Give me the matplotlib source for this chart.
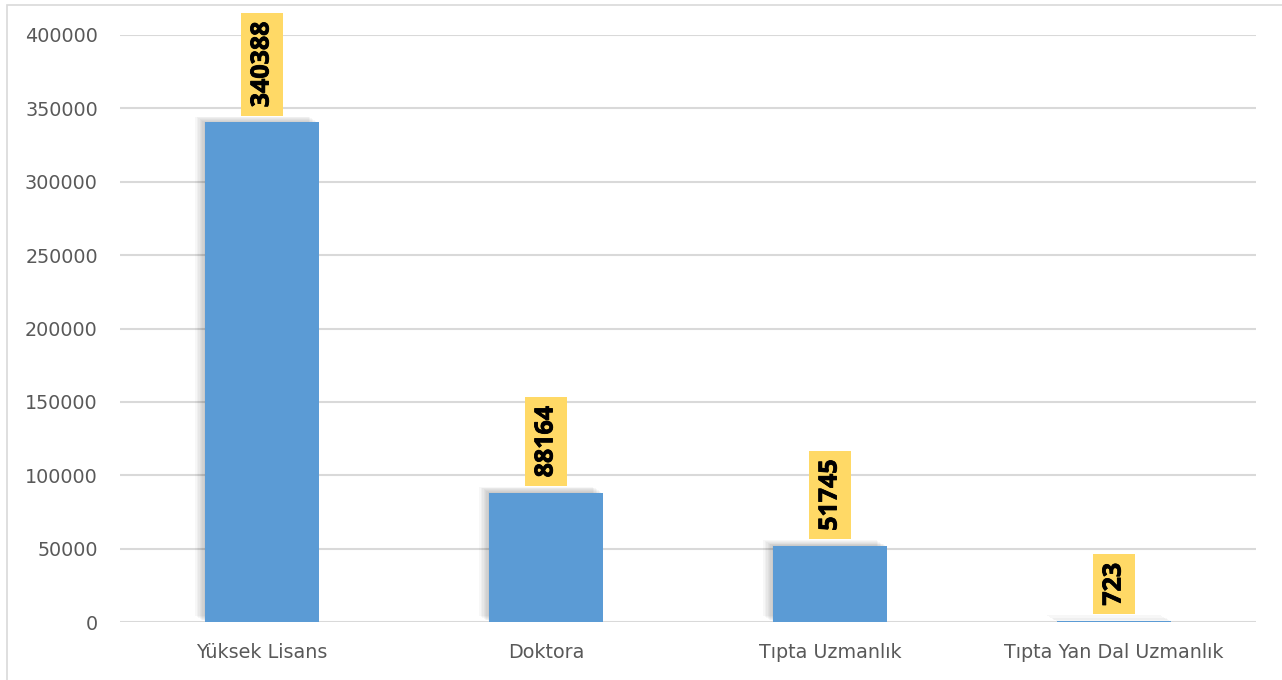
import matplotlib
matplotlib.use("Agg")
import matplotlib.pyplot as plt
import matplotlib.patheffects as pe
from matplotlib.patches import Rectangle

categories = ["Yüksek Lisans", "Doktora", "Tıpta Uzmanlık", "Tıpta Yan Dal Uzmanlık"]
values = [340388, 88164, 51745, 723]
yticks = [0, 50000, 100000, 150000, 200000, 250000, 300000, 350000, 400000]

W, H = 1282, 680
fig = plt.figure(figsize=(W / 100, H / 100), dpi=100)
fig.patch.set_facecolor("white")
ax = fig.add_axes([120 / W, 1 - 622 / H, (1256 - 120) / W, (622 - 35) / H])

x = list(range(len(categories)))

shadow = [pe.SimplePatchShadow(offset=(-d, d * 0.6), shadow_rgbFace="#000000", alpha=0.03)
          for d in (7, 6, 5, 4, 3, 2, 1)]
bars = ax.bar(x, values, width=0.4, color="#5B9BD5", zorder=3,
              path_effects=shadow + [pe.Normal()])

ax.set_xlim(-0.5, len(categories) - 0.5)
ax.set_ylim(0, 400000)
ax.set_yticks(yticks)
ax.set_yticklabels([str(v) for v in yticks])
ax.set_xticks(x)
ax.set_xticklabels(categories)

ax.grid(axis="y", color="#D9D9D9", linewidth=1.5, zorder=0)
ax.set_axisbelow(True)
for s in ax.spines.values():
    s.set_visible(False)
ax.tick_params(axis="both", length=0, colors="#595959", labelsize=13.8)
ax.tick_params(axis="y", pad=16)
ax.tick_params(axis="x", pad=15)
for lab in ax.get_xticklabels() + ax.get_yticklabels():
    lab.set_fontfamily("DejaVu Sans")

for xi, v in zip(x, values):
    ax.annotate(str(v), xy=(xi, v), xytext=(0, 11), textcoords="offset points",
                ha="center", va="bottom", rotation=90, fontsize=18,
                fontweight="bold", family=["Open Sans", "DejaVu Sans"], color="black",
                bbox=dict(boxstyle="square,pad=0.34", facecolor="#FFD966", edgecolor="none"),
                path_effects=[pe.withStroke(linewidth=0.6, foreground="black")],
                zorder=5)

fig.patches.append(Rectangle((7 / W, -0.05), 1.2, 1 - 5 / H + 0.05, fill=False,
                             edgecolor="#D9D9D9", linewidth=1.2,
                             transform=fig.transFigure, figure=fig))

fig.savefig("out.png", dpi=100)
